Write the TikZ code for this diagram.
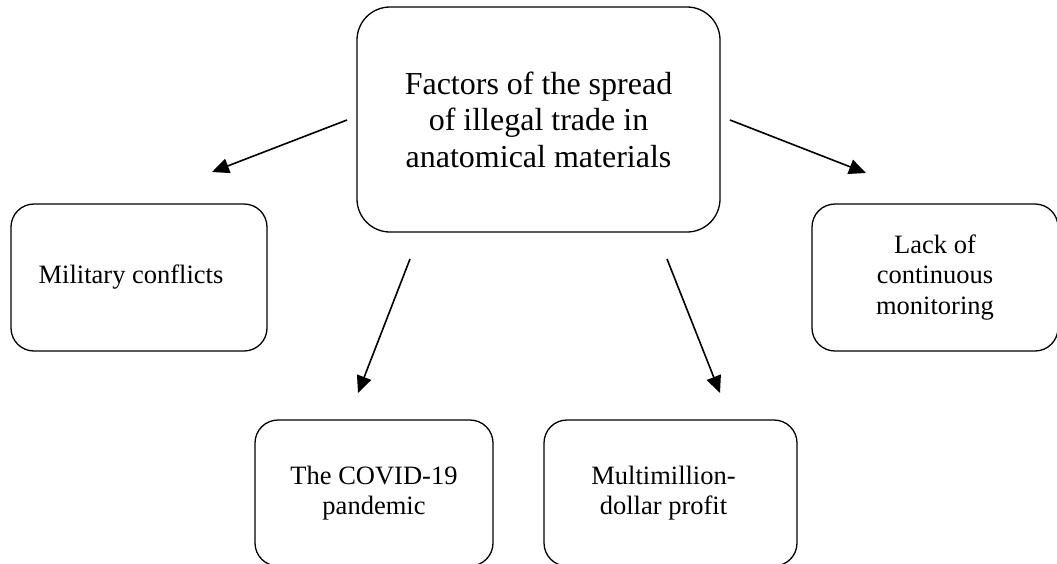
\documentclass[tikz,border=0pt]{standalone}
\usepackage{fontspec}
\setmainfont{Liberation Serif}
\usetikzlibrary{arrows.meta}
\tikzset{
  box/.style={draw=black, line width=1.3pt, rounded corners=23pt, inner sep=0pt, align=center,
    font=\fontsize{26.5}{30.5}\selectfont},
  bigbox/.style={box, rounded corners=33pt, font=\fontsize{32}{36.5}\selectfont},
  arr/.style={line width=1.6pt, -{Triangle[length=17pt,width=15pt]}}
}
\begin{document}
\begin{tikzpicture}[x=1pt,y=-1pt]
\useasboundingbox (0,0) rectangle (1057,563);
\clip (0,0) rectangle (1057,563);
\node[bigbox, minimum width=363pt, minimum height=225pt] (c) at (538.5,119.5)
  {Factors of the spread\\of illegal trade in\\anatomical materials};
\node[box, minimum width=256pt, minimum height=147pt] (mil) at (139,277.5)
  {Military conflicts\hspace*{16pt}};
\node[box, minimum width=246pt, minimum height=147pt] (lack) at (935,277.5)
  {Lack of\\continuous\\monitoring};
\node[box, minimum width=238pt, minimum height=146pt] (cov) at (374,493)
  {The COVID-19\\pandemic};
\node[box, minimum width=253pt, minimum height=146pt] (mon) at (670.5,493)
  {Multimillion-\hspace*{14pt}\\dollar profit\hspace*{14pt}};
\coordinate (a1s) at (347,120); \coordinate (a1e) at (212,172);
\coordinate (a2s) at (730,120); \coordinate (a2e) at (866,173);
\coordinate (a3s) at (410,259); \coordinate (a3e) at (358,393);
\coordinate (a4s) at (667,259); \coordinate (a4e) at (720,393);
\draw[arr] (a1s) -- (a1e);
\draw[arr] (a2s) -- (a2e);
\draw[arr] (a3s) -- (a3e);
\draw[arr] (a4s) -- (a4e);
\end{tikzpicture}
\end{document}
